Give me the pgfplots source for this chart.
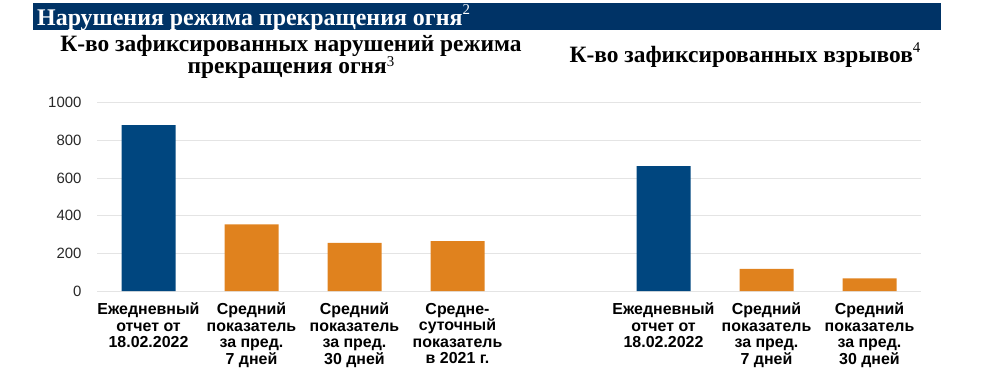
\documentclass[border=0pt]{standalone}
\usepackage{pgfplots}
\pgfplotsset{compat=1.18}
\usepackage{fontspec}
\setmainfont{Liberation Serif}
\newfontfamily\arial{Liberation Sans}
\definecolor{hdr}{RGB}{0,51,102}
\definecolor{cblue}{RGB}{0,70,127}
\definecolor{corange}{RGB}{224,130,30}
\definecolor{gridc}{RGB}{228,228,228}
\definecolor{tickc}{RGB}{40,40,40}
\newcommand{\fnsup}[2][0.42em]{\raisebox{#1}{\fontsize{15}{15}\selectfont\mdseries #2}}
\begin{document}
\begin{tikzpicture}[x=1bp,y=1bp]
\path (0,0) rectangle (990,388);
\fill[hdr] (33,358) rectangle (941,385);
\node[anchor=base west, text=white, inner sep=0pt, font=\fontsize{24}{26}\selectfont\bfseries] at (37,363) {Нарушения режима прекращения огня\fnsup{2}};
\node[anchor=base, inner sep=0pt, font=\fontsize{23.5}{26}\selectfont\bfseries] at (291,337) {К-во зафиксированных нарушений режима};
\node[anchor=base, inner sep=0pt, font=\fontsize{23.5}{26}\selectfont\bfseries] at (291,314.5) {прекращения огня\fnsup[0.28em]{3}};
\node[anchor=base, inner sep=0pt, font=\fontsize{23.5}{26}\selectfont\bfseries] at (745,326) {К-во зафиксированных взрывов\fnsup{4}};
\begin{axis}[
  at={(97bp,97bp)}, anchor=south west,
  scale only axis, width=824bp, height=188.4bp,
  xmin=-0.5, xmax=7.5, ymin=0, ymax=1000,
  ymajorgrids, grid style={gridc, line width=0.8pt},
  ytick={0,200,400,600,800,1000},
  xtick={0,1,2,3,5,6,7},
  xticklabels={{Ежедневный\\отчет от\\18.02.2022},{Средний\\показатель\\за пред.\\7 дней},{Средний\\показатель\\за пред.\\30 дней},{Средне-\\суточный\\показатель\\в 2021 г.},{Ежедневный\\отчет от\\18.02.2022},{Средний\\показатель\\за пред.\\7 дней},{Средний\\показатель\\за пред.\\30 дней}},
  xticklabel style={align=center, font=\arial\bfseries\fontsize{16}{16.6}\selectfont, yshift=-8.5bp},
  yticklabel style={font=\arial\fontsize{15}{17}\selectfont, text=tickc, xshift=-12bp},
  /pgf/number format/assume math mode=true,
  /pgf/number format/1000 sep={},
  major tick length=0pt,
  axis line style={draw=none},
]
\addplot[ybar, bar width=54bp, bar shift=0pt, fill=cblue, draw=none] coordinates {(0,880) (5,663)};
\addplot[ybar, bar width=54bp, bar shift=0pt, fill=corange, draw=none] coordinates {(1,354) (2,256) (3,265) (6,117) (7,67)};
\end{axis}
\end{tikzpicture}
\end{document}
